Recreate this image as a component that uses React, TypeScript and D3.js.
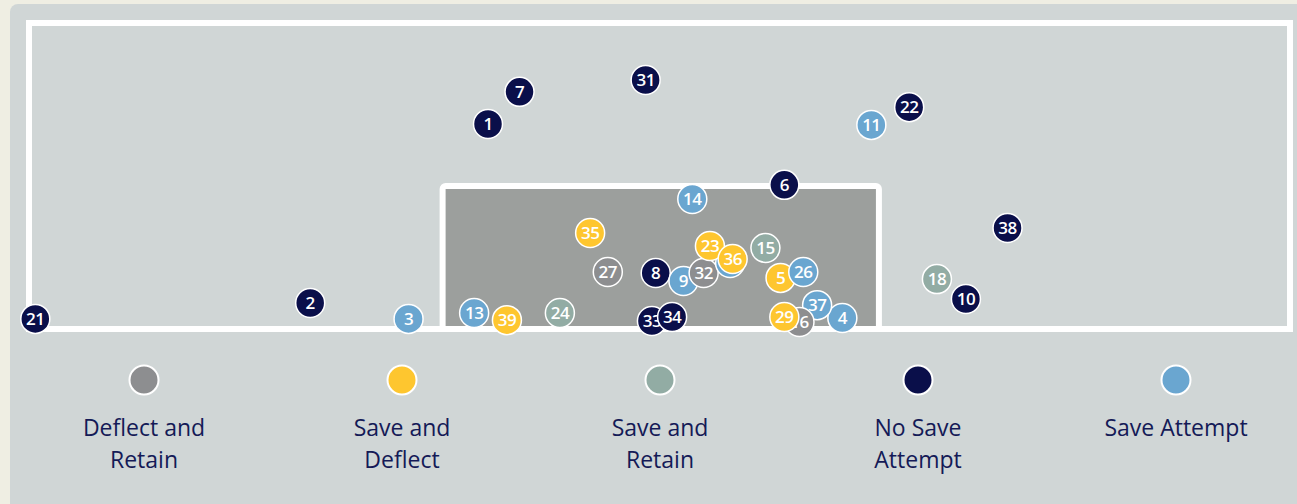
import React from "react";
import * as d3 from "d3";

// shot map: positions in % of goal frame (x left->right, y bottom->top)
const outcomes = ["Deflect and Retain", "Save and Deflect", "Save and Retain", "No Save Attempt", "Save Attempt"];
const outcomeColours = ["#8d8e90", "#fec62f", "#92aca4", "#0a0f4a", "#6aa6d0"];

// listed in drawing order (later ones sit on top)
const shotNumbers = [21, 2, 3, 13, 39, 24, 35, 27, 18, 10, 8, 9, 32, 30, 23, 36, 15, 5, 26, 4, 37, 16, 29, 33, 34, 7, 1, 31, 11, 22, 6, 14, 38];
const shotX = [0.5, 22.3, 30.1, 35.3, 37.9, 42.1, 44.5, 45.9, 72.0, 74.3, 49.7, 51.9, 53.5, 55.6, 54.0, 55.8, 58.4, 59.6, 61.4, 64.5, 62.5, 61.1, 59.9, 49.4, 51.0, 38.9, 36.4, 48.9, 66.8, 69.8, 59.9, 52.6, 77.6];
const shotY = [3.3, 8.5, 3.3, 5.2, 2.9, 5.2, 31.4, 18.6, 16.3, 9.8, 18.3, 15.7, 18.3, 21.6, 27.1, 22.9, 26.5, 16.7, 18.6, 3.6, 7.8, 2.3, 3.9, 2.6, 3.9, 77.5, 67.0, 81.4, 66.7, 72.5, 47.1, 42.5, 33.0];
const shotOutcome = [3, 3, 4, 4, 1, 2, 1, 0, 2, 3, 3, 4, 0, 4, 1, 1, 2, 1, 4, 4, 4, 0, 1, 3, 3, 3, 3, 3, 4, 3, 3, 4, 3];

// inner box bounds, same % units
const boxLeft = 32.8;
const boxRight = 67.4;
const boxTop = 46.7;

const W = 1297;
const H = 504;

export default function App() {
    const x = d3.scaleLinear().domain([0, 100]).range([29, 1290]);
    const y = d3.scaleLinear().domain([0, 100]).range([329, 23]);
    const legendX = d3.scalePoint().domain(outcomes).range([144, 1176]);

    const shots = shotNumbers.map((n, i) => ({n, x: shotX[i], y: shotY[i], o: shotOutcome[i]}));

    return (
        <svg width={W} height={H} style={{position: "absolute", left: 0, top: 0}}
             fontFamily="'Open Sans', sans-serif">
            <rect x={0} y={0} width={W} height={H} fill="#efeee3"/>
            <rect x={10} y={4} width={W + 20} height={H + 20} rx={8} fill="#d0d6d6"/>
            <rect x={x(0)} y={y(100)} width={x(100) - x(0)} height={y(0) - y(100)}
                  fill="#d0d6d6" stroke="#fff" strokeWidth={6}/>
            <rect x={x(boxLeft)} y={y(boxTop)} width={x(boxRight) - x(boxLeft)} height={y(0) - y(boxTop)}
                  rx={3} fill="#9c9f9d" stroke="#fff" strokeWidth={6}/>
            <line x1={x(0)} x2={x(100)} y1={y(0)} y2={y(0)} stroke="#fff" strokeWidth={6}/>
            <g>
                {shots.map(d => (
                    <g key={d.n} transform={`translate(${x(d.x)},${y(d.y)})`}>
                        <circle r={14.5} fill={outcomeColours[d.o]} stroke="#fff" strokeWidth={1.5}/>
                        <text textAnchor="middle" dy="0.36em" fill="#fff" fontSize={17} fontWeight={600}
                              letterSpacing={-0.5}>{d.n}</text>
                    </g>
                ))}
            </g>
            <g>
                {outcomes.map((o, i) => {
                    const words = o.split(" ");
                    let lines = o === "Save Attempt" ? [o] : [words.slice(0, -1).join(" "), words[words.length - 1]];
                    if (o === "No Save Attempt") lines = ["No Save", "Attempt"];
                    return (
                        <g key={o} transform={`translate(${legendX(o)},0)`}>
                            <circle cy={380} r={14.5} fill={outcomeColours[i]} stroke="#fff" strokeWidth={2}/>
                            {lines.map((l, j) => (
                                <text key={j} y={428 + j * 32} dy="0.35em" textAnchor="middle"
                                      fill="#141a57" fontSize={23}>{l}</text>
                            ))}
                        </g>
                    );
                })}
            </g>
        </svg>
    );
}
